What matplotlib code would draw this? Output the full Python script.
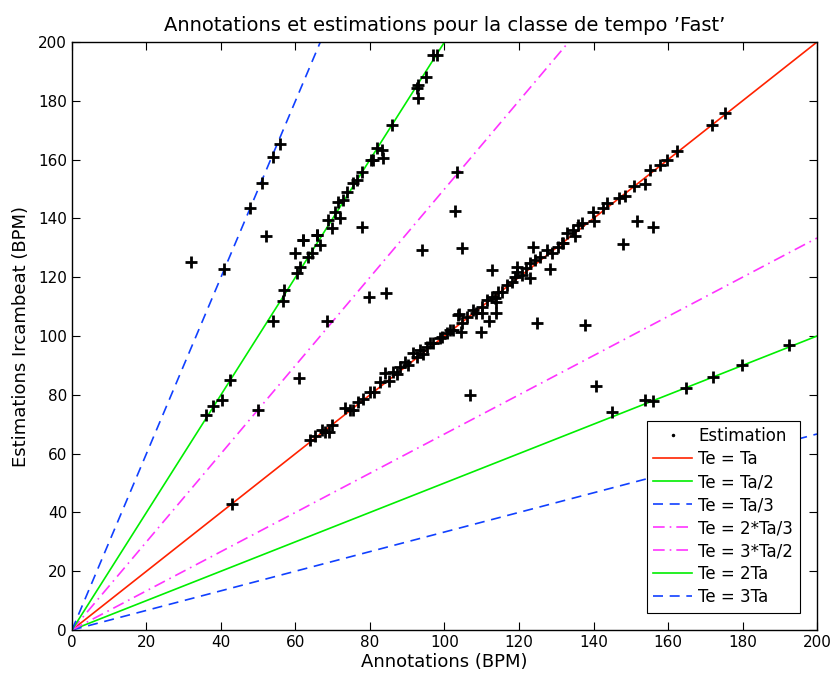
import numpy as np
import matplotlib
matplotlib.use("Agg")
import matplotlib.pyplot as plt
from matplotlib.lines import Line2D

# annotated tempo (x) vs estimated tempo (y)
ann = [
    # near Te = 3Ta
    55.8, 54.0, 50.9, 47.9, 52.0, 31.9, 40.9,
    # near Te = 2Ta
    59.9, 61.2, 60.3, 56.9, 56.6, 54.0, 42.4, 40.2, 37.9, 36.0,
    62.1, 63.4, 64.3, 65.7, 66.6, 68.8, 69.7, 70.6, 71.9, 71.5, 72.8, 73.7,
    75.5, 76.4, 77.8, 80.9, 81.8, 80.4, 83.1, 83.6, 85.8, 92.5, 93.0, 93.0,
    95.0, 97.0, 97.9, 61.9, 65.9,
    # scattered
    68.4, 79.8, 84.3, 49.9, 60.9, 77.8, 93.9, 103.3, 102.8, 104.8, 112.8,
    124.7, 106.8, 43.0, 128.3, 109.8, 111.9, 113.8, 113.8, 104.4, 103.9,
    137.7, 140.8, 144.9, 153.8, 155.9, 164.8, 172.0, 179.8, 192.6,
    151.8, 155.9, 147.8,
    # near Te = Ta
    63.9, 65.2, 67.0, 68.0, 69.1, 69.7, 73.3, 74.6, 75.5, 76.9, 78.2, 80.0,
    81.2, 82.7, 84.0, 85.0, 86.3, 87.2, 88.1, 89.4, 90.2, 91.6, 92.5, 93.4,
    94.3, 95.2, 96.1, 97.0, 98.8, 99.2, 100.6, 101.5, 102.4, 103.7, 104.8,
    106.0, 107.7, 108.5, 110.0, 110.0, 111.3, 112.7, 113.5, 114.4, 115.5,
    116.7, 118.0, 118.9, 119.4, 120.7, 122.0, 123.0, 123.8, 122.9, 119.4,
    124.3, 125.6, 127.4, 128.8, 130.5, 131.5, 131.9, 132.8, 134.6, 135.0,
    135.9, 136.8, 139.8, 140.0, 142.6, 143.5, 146.9, 148.5, 150.9, 153.8,
    155.2, 157.9, 159.7, 162.3, 171.7, 175.3,
]
est = [
    165.2, 161.0, 151.9, 143.6, 134.0, 125.1, 122.7,
    128.3, 123.6, 121.3, 115.6, 112.0, 105.1, 85.0, 78.2, 76.2, 73.1,
    132.7, 127.0, 128.1, 134.4, 131.0, 139.5, 136.6, 142.3, 140.0, 145.7, 146.3, 149.1,
    151.9, 153.1, 155.9, 159.9, 163.8, 159.9, 163.3, 160.4, 171.8, 184.2, 180.8, 185.4,
    188.0, 195.6, 195.6, 132.7, 134.4,
    105.2, 113.4, 114.7, 74.8, 85.8, 137.2, 129.2, 155.9, 142.5, 130.0, 122.4,
    104.5, 79.9, 42.9, 122.7, 101.5, 105.2, 107.7, 111.7, 101.2, 107.4,
    103.7, 83.0, 74.3, 78.2, 78.0, 82.4, 86.2, 90.1, 96.9,
    139.2, 137.2, 131.3,
    64.6, 66.0, 68.0, 67.2, 67.4, 69.7, 75.4, 74.8, 75.0, 77.7, 78.5, 81.1,
    81.0, 84.5, 87.3, 84.8, 87.9, 87.0, 89.6, 91.3, 90.0, 94.1, 92.8, 95.2,
    94.0, 96.4, 97.5, 97.5, 99.2, 99.8, 100.9, 102.0, 102.2, 107.1, 104.5,
    106.6, 108.8, 107.8, 110.0, 107.7, 112.2, 113.4, 113.0, 115.1, 115.0,
    117.3, 118.5, 120.2, 121.9, 120.7, 123.0, 124.7, 130.4, 119.6, 123.6,
    125.9, 127.0, 129.3, 128.1, 130.4, 131.5, 131.5, 135.0, 136.1, 134.0,
    137.8, 138.5, 142.3, 139.1, 143.4, 145.1, 146.8, 147.6, 151.1, 151.7,
    156.5, 158.2, 159.9, 162.9, 171.8, 175.9,
]

ratios = [1, 1/2, 1/3, 2/3, 3/2, 2, 3]
labels = ["Te = Ta", "Te = Ta/2", "Te = Ta/3", "Te = 2*Ta/3", "Te = 3*Ta/2", "Te = 2Ta", "Te = 3Ta"]
colors = ["#ff2200", "#00ee00", "#1040ff", "#ff33ff", "#ff33ff", "#00ee00", "#1040ff"]
styles = ["-", "-", (0, (6, 4)), (0, (7, 3, 1, 3)), (0, (7, 3, 1, 3)), "-", (0, (6, 4))]

fig = plt.figure(figsize=(8.32, 6.78), dpi=100)
ax = fig.add_axes([0.0865, 0.0708, 0.8955, 0.8672])

ax.plot(ann, est, "+", color="black", ms=9, mew=2, zorder=3)
xs = np.array([0, 200])
for r, lab, c, ls in zip(ratios, labels, colors, styles):
    ax.plot(xs, r * xs, color=c, linestyle=ls, lw=1.2, zorder=2)

ax.set_xlim(0, 200)
ax.set_ylim(0, 200)
ax.set_xticks(np.arange(0, 201, 20))
ax.set_yticks(np.arange(0, 201, 20))
ax.tick_params(direction="in", length=6, top=True, right=True, labelsize=11)
for s in ax.spines.values():
    s.set_linewidth(1.0)

ax.set_xlabel("Annotations (BPM)", fontsize=13, labelpad=2)
ax.set_ylabel("Estimations Ircambeat (BPM)", fontsize=13, labelpad=6)
ax.set_title("Annotations et estimations pour la classe de tempo \u2019Fast\u2019", fontsize=14, pad=8)

handles = [Line2D([], [], marker=".", color="black", ls="none", ms=3)]
for c, ls in zip(colors, styles):
    handles.append(Line2D([], [], color=c, linestyle=ls, lw=1.2))
leg = ax.legend(handles, ["Estimation"] + labels, loc="lower right", bbox_to_anchor=(0.977, 0.029),
                borderaxespad=0, fontsize=12, fancybox=False, framealpha=1, edgecolor="black",
                handlelength=2.3, handletextpad=0.4, labelspacing=0.3, borderpad=0.4)
leg.get_frame().set_linewidth(0.8)

fig.savefig("out.png", dpi=100)
